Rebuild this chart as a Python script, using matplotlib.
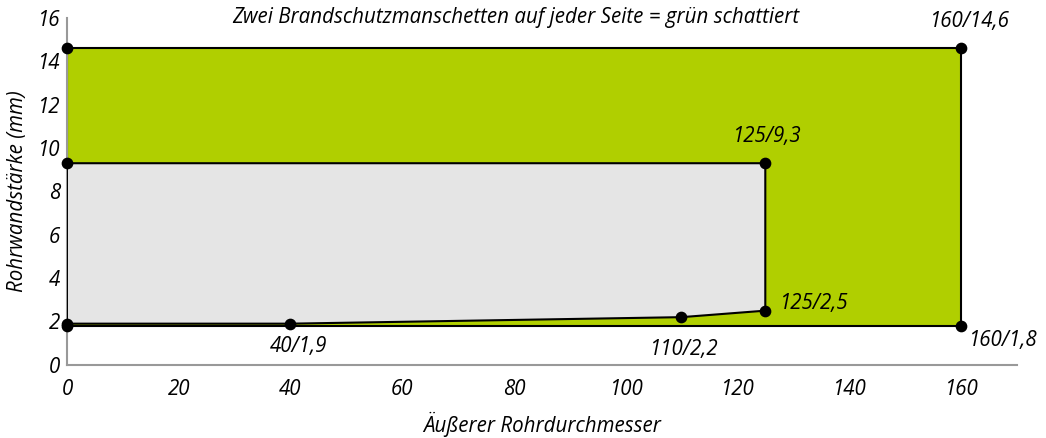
import matplotlib
matplotlib.use("Agg")
import matplotlib.pyplot as plt

# Data
green_x = [0, 160, 160, 0]
green_y = [1.8, 1.8, 14.6, 14.6]
grey_x = [0, 40, 110, 125, 125, 0]
grey_y = [1.9, 1.9, 2.2, 2.5, 9.3, 9.3]

label_pts_x = [160, 125, 125, 110, 40, 160]
label_pts_y = [14.6, 9.3, 2.5, 2.2, 1.9, 1.8]
label_texts = ["160/14,6", "125/9,3", "125/2,5", "110/2,2", "40/1,9", "160/1,8"]

x_ticks = [0, 20, 40, 60, 80, 100, 120, 140, 160]
y_ticks = [0, 2, 4, 6, 8, 10, 12, 14, 16]

title = "Zwei Brandschutzmanschetten auf jeder Seite = grün schattiert"
xlabel = "Äußerer Rohrdurchmesser"
ylabel = "Rohrwandstärke (mm)"

plt.rcParams['font.family'] = ['Open Sans', 'DejaVu Sans']
plt.rcParams['font.style'] = 'italic'

FS = 14.8

fig = plt.figure(figsize=(10.46, 4.38), dpi=100)
ax = fig.add_axes([0.064, 0.167, 0.908, 0.792])

GREEN = "#b0cf00"
GREY = "#e5e5e5"

ax.fill(green_x, green_y, facecolor=GREEN, edgecolor="black", linewidth=1.5, zorder=2)
ax.fill(grey_x, grey_y, facecolor=GREY, edgecolor="black", linewidth=1.5, zorder=3)

ax.scatter(green_x, green_y, s=55, color="black", zorder=5, clip_on=False)
ax.scatter(grey_x, grey_y, s=55, color="black", zorder=5, clip_on=False)

# annotation offsets (points)
offsets = [(6, 12, 'center', 'bottom'),
           (1, 12, 'center', 'bottom'),
           (10, 5, 'left', 'center'),
           (1, -16, 'center', 'top'),
           (6, -9, 'center', 'top'),
           (5, -3, 'left', 'top')]
for x, y, t, (dx, dy, ha, va) in zip(label_pts_x, label_pts_y, label_texts, offsets):
    ax.annotate(t, (x, y), xytext=(dx, dy), textcoords='offset points',
                ha=ha, va=va, fontsize=FS, style='italic', zorder=6)

ax.set_xlim(0, 170)
ax.set_ylim(0, 16)
ax.set_xticks(x_ticks)
ax.set_yticks(y_ticks)
ax.tick_params(length=0, labelsize=FS)
ax.tick_params(axis='x', pad=10)
ax.tick_params(axis='y', pad=5)
for lab in ax.get_xticklabels() + ax.get_yticklabels():
    lab.set_style('italic')

for s in ['top', 'right']:
    ax.spines[s].set_visible(False)
for s in ['left', 'bottom']:
    ax.spines[s].set_color("#999999")
    ax.spines[s].set_linewidth(1.5)

fig.text(516 / 1046, 1 - 17 / 438, title, fontsize=FS, style='italic',
         ha='center', va='center')
ax.set_xlabel(xlabel, fontsize=FS, style='italic', labelpad=9)
ax.set_ylabel(ylabel, fontsize=FS, style='italic', labelpad=7)

fig.savefig("out.png", dpi=100)
